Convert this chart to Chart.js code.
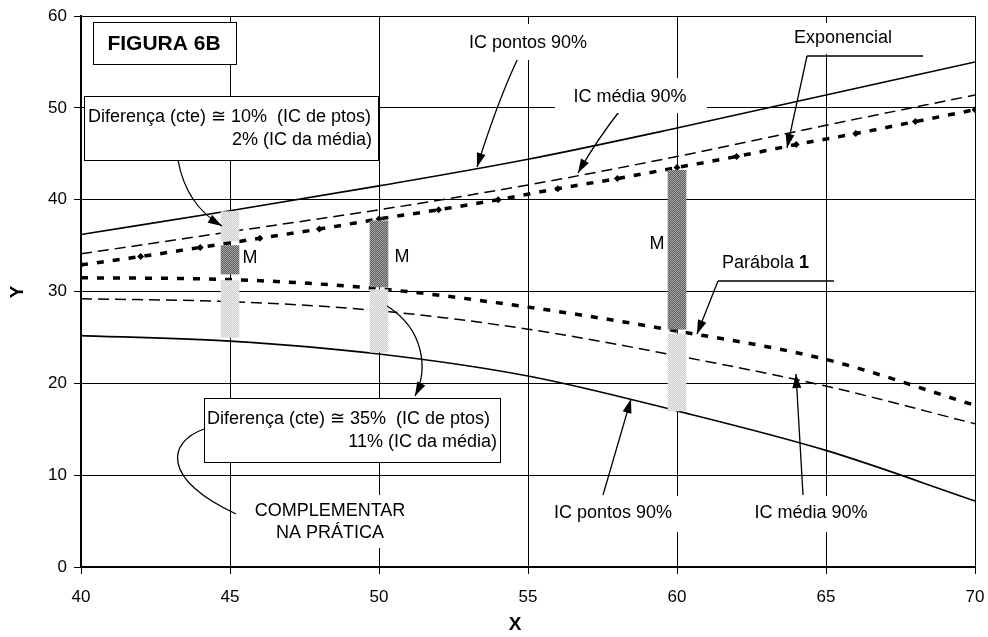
<!DOCTYPE html>
<html>
<head>
<meta charset="utf-8">
<script src="https://cdn.jsdelivr.net/npm/chart.js@4.4.0/dist/chart.umd.min.js"></script>
<style>
  body { margin: 0; background: #fff; }
</style>
</head>
<body>
<canvas id="grafico" width="988" height="637"></canvas>
<script>
// valores
const xValores = [40, 45, 50, 55, 60, 65, 70];
const icPontosSup = [36.2, 38.8, 41.5, 44.4, 47.8, 51.4, 55.0];
const icMediaSup = [34.1, 36.5, 38.9, 41.6, 44.7, 48.1, 51.4];
const parabola1 = [31.5, 31.3, 30.3, 28.3, 25.7, 22.6, 17.6];
const icMediaInf = [29.2, 28.9, 27.9, 25.9, 23.0, 19.7, 15.6];
const icPontosInf = [25.2, 24.6, 23.2, 20.8, 17.0, 12.7, 7.2];

const xExpo = [40, 42, 44, 46, 48, 50, 52, 54, 56, 58, 60, 62, 64, 66, 68, 70];
const exponencial = [32.9, 33.8, 34.8, 35.8, 36.8, 37.9, 38.9, 40.0, 41.2, 42.3, 43.5, 44.7, 46.0, 47.2, 48.5, 49.8];

const xBarras = [45, 50, 60];
const claroInf = [[25.0, 31.2], [23.4, 30.2], [17.0, 25.4]];
const escuro = [[31.9, 35.0], [30.5, 37.7], [25.9, 43.2]];
const claroSup = [[35.5, 38.7], null, null];

const fonte = 'Arial, "Liberation Sans", sans-serif';

const canvas = document.getElementById('grafico');
const ctx0 = canvas.getContext('2d');

function padrao(c1, c2) {
  const p = document.createElement('canvas');
  p.width = 2; p.height = 2;
  const g = p.getContext('2d');
  g.fillStyle = c1; g.fillRect(0, 0, 2, 2);
  g.fillStyle = c2; g.fillRect(0, 0, 1, 1); g.fillRect(1, 1, 1, 1);
  return ctx0.createPattern(p, 'repeat');
}

function pontos(xs, ys) {
  return xs.map((x, i) => ys[i] == null ? null : { x: x, y: ys[i] }).filter(p => p);
}

function linha(dados, largura, tracejado, extra) {
  return Object.assign({
    type: 'line',
    data: dados,
    borderColor: '#000',
    borderWidth: largura,
    borderDash: tracejado,
    pointRadius: 0,
    fill: false,
    cubicInterpolationMode: 'monotone',
    order: 2
  }, extra || {});
}

function barra(dados, cor) {
  return {
    type: 'bar',
    data: pontos(xBarras, dados),
    backgroundColor: cor,
    borderWidth: 0,
    barThickness: 18,
    grouped: false,
    order: 1
  };
}

function seta(ctx, p, ponta) {
  ctx.beginPath();
  ctx.moveTo(p[0][0], p[0][1]);
  if (p.length === 2) ctx.lineTo(p[1][0], p[1][1]);
  else if (p.length === 3) ctx.quadraticCurveTo(p[1][0], p[1][1], p[2][0], p[2][1]);
  else ctx.bezierCurveTo(p[1][0], p[1][1], p[2][0], p[2][1], p[3][0], p[3][1]);
  ctx.stroke();
  if (!ponta) return;
  const a = p[p.length - 1], b = p[p.length - 2];
  const ang = Math.atan2(a[1] - b[1], a[0] - b[0]);
  ctx.beginPath();
  ctx.moveTo(a[0], a[1]);
  ctx.lineTo(a[0] - 14 * Math.cos(ang) + 4.5 * Math.sin(ang), a[1] - 14 * Math.sin(ang) - 4.5 * Math.cos(ang));
  ctx.lineTo(a[0] - 14 * Math.cos(ang) - 4.5 * Math.sin(ang), a[1] - 14 * Math.sin(ang) + 4.5 * Math.cos(ang));
  ctx.closePath();
  ctx.fill();
}

function caixa(ctx, x0, y0, x1, y1, borda) {
  ctx.fillStyle = '#fff';
  ctx.fillRect(x0, y0, x1 - x0, y1 - y0);
  if (borda) {
    ctx.strokeStyle = '#000';
    ctx.lineWidth = 1;
    ctx.strokeRect(x0 + 0.5, y0 + 0.5, x1 - x0, y1 - y0);
  }
  ctx.fillStyle = '#000';
}

const anotacoes = {
  id: 'anotacoes',
  afterDraw(chart) {
    const ctx = chart.ctx;
    ctx.save();
    ctx.strokeStyle = '#000';
    ctx.fillStyle = '#000';
    ctx.lineWidth = 1.3;

    // setas
    seta(ctx, [[178, 160], [186, 205], [222, 226]], true);
    seta(ctx, [[387, 306], [425, 330], [428, 370], [415, 396]], true);
    seta(ctx, [[204, 429], [168, 442], [160, 478], [236, 514]], false);
    seta(ctx, [[519, 56], [498, 100], [477, 167]], true);
    seta(ctx, [[622, 108], [598, 138], [578, 173]], true);
    seta(ctx, [[923, 56], [807, 56]], false);
    seta(ctx, [[807, 56], [787, 148]], true);
    seta(ctx, [[834, 281], [718, 281]], false);
    seta(ctx, [[718, 281], [697, 334]], true);
    seta(ctx, [[603, 495], [631, 399]], true);
    seta(ctx, [[803, 495], [796, 374]], true);

    // caixas e textos
    caixa(ctx, 93, 22, 236, 64, true);
    ctx.font = 'bold 21px ' + fonte;
    ctx.textBaseline = 'middle';
    ctx.textAlign = 'center';
    ctx.fillText('FIGURA 6B', 164, 44);

    ctx.font = '18px ' + fonte;
    caixa(ctx, 84, 96, 378, 160, true);
    ctx.textAlign = 'left';
    ctx.fillText('Diferença (cte) ≅ 10%  (IC de ptos)', 88, 117);
    ctx.textAlign = 'right';
    ctx.fillText('2% (IC da média)', 372, 140);

    caixa(ctx, 204, 398, 500, 462, true);
    ctx.textAlign = 'left';
    ctx.fillText('Diferença (cte) ≅ 35%  (IC de ptos)', 207, 419);
    ctx.textAlign = 'right';
    ctx.fillText('11% (IC da média)', 497, 442);

    ctx.textAlign = 'center';
    caixa(ctx, 250, 495, 410, 548, false);
    ctx.fillText('COMPLEMENTAR', 330, 511);
    ctx.fillText('NA PRÁTICA', 330, 533);

    caixa(ctx, 466, 24, 590, 60, false);
    ctx.fillText('IC pontos 90%', 528, 43);
    caixa(ctx, 555, 78, 707, 113, false);
    ctx.fillText('IC média 90%', 630, 97);
    caixa(ctx, 782, 23, 905, 54, false);
    ctx.fillText('Exponencial', 843, 38);
    caixa(ctx, 548, 496, 682, 532, false);
    ctx.fillText('IC pontos 90%', 613, 513);
    caixa(ctx, 748, 496, 874, 532, false);
    ctx.fillText('IC média 90%', 811, 513);

    ctx.textAlign = 'left';
    ctx.fillText('Parábola ', 722, 263);
    const w = ctx.measureText('Parábola ').width;
    ctx.font = 'bold 18px ' + fonte;
    ctx.fillText('1', 722 + w, 263);

    ctx.font = '18px ' + fonte;
    ctx.textAlign = 'center';
    ctx.fillText('M', 250, 258);
    ctx.fillText('M', 402, 257);
    ctx.fillText('M', 657, 244);

    // títulos dos eixos
    ctx.font = 'bold 19px ' + fonte;
    ctx.fillText('X', 515, 625);
    ctx.translate(18, 292);
    ctx.rotate(-Math.PI / 2);
    ctx.fillText('Y', 0, 0);
    ctx.restore();
  }
};

new Chart(canvas, {
  data: {
    datasets: [
      barra(claroSup, padrao('#cdcdcd', '#eeeeee')),
      barra(escuro, padrao('#5c5c5c', '#a9a9a9')),
      barra(claroInf, padrao('#cdcdcd', '#eeeeee')),
      linha(pontos(xValores, icPontosSup), 1.6, []),
      linha(pontos(xValores, icMediaSup), 1.5, [11, 6]),
      linha(pontos(xExpo, exponencial), 3.5, [7, 9], {
        pointRadius: 3.5, pointStyle: 'rectRot',
        pointBackgroundColor: '#000', pointBorderWidth: 0
      }),
      linha(pontos(xValores, parabola1), 3.5, [7, 9]),
      linha(pontos(xValores, icMediaInf), 1.5, [11, 6]),
      linha(pontos(xValores, icPontosInf), 1.6, [])
    ]
  },
  options: {
    responsive: false,
    animation: false,
    layout: { padding: { top: 16, right: 13, left: 0, bottom: 0 } },
    plugins: {
      legend: { display: false },
      tooltip: { enabled: false }
    },
    scales: {
      x: {
        type: 'linear',
        min: 40, max: 70,
        offset: false,
        ticks: { stepSize: 5, color: '#000', padding: 13, font: { size: 17, family: fonte } },
        grid: { offset: false, color: '#000', lineWidth: 1, tickLength: 7, tickColor: '#000' },
        border: { color: '#000', width: 2 },
        afterFit(s) { s.height = 70; s.paddingLeft = 0; s.paddingRight = 0; }
      },
      y: {
        type: 'linear',
        min: 0, max: 60,
        ticks: { stepSize: 10, color: '#000', padding: 7, font: { size: 17, family: fonte } },
        grid: { color: '#000', lineWidth: 1, tickLength: 7, tickColor: '#000' },
        border: { color: '#000', width: 2 },
        afterFit(s) { s.width = 81; s.paddingTop = 0; s.paddingBottom = 0; }
      }
    }
  },
  plugins: [anotacoes]
});
</script>
</body>
</html>
